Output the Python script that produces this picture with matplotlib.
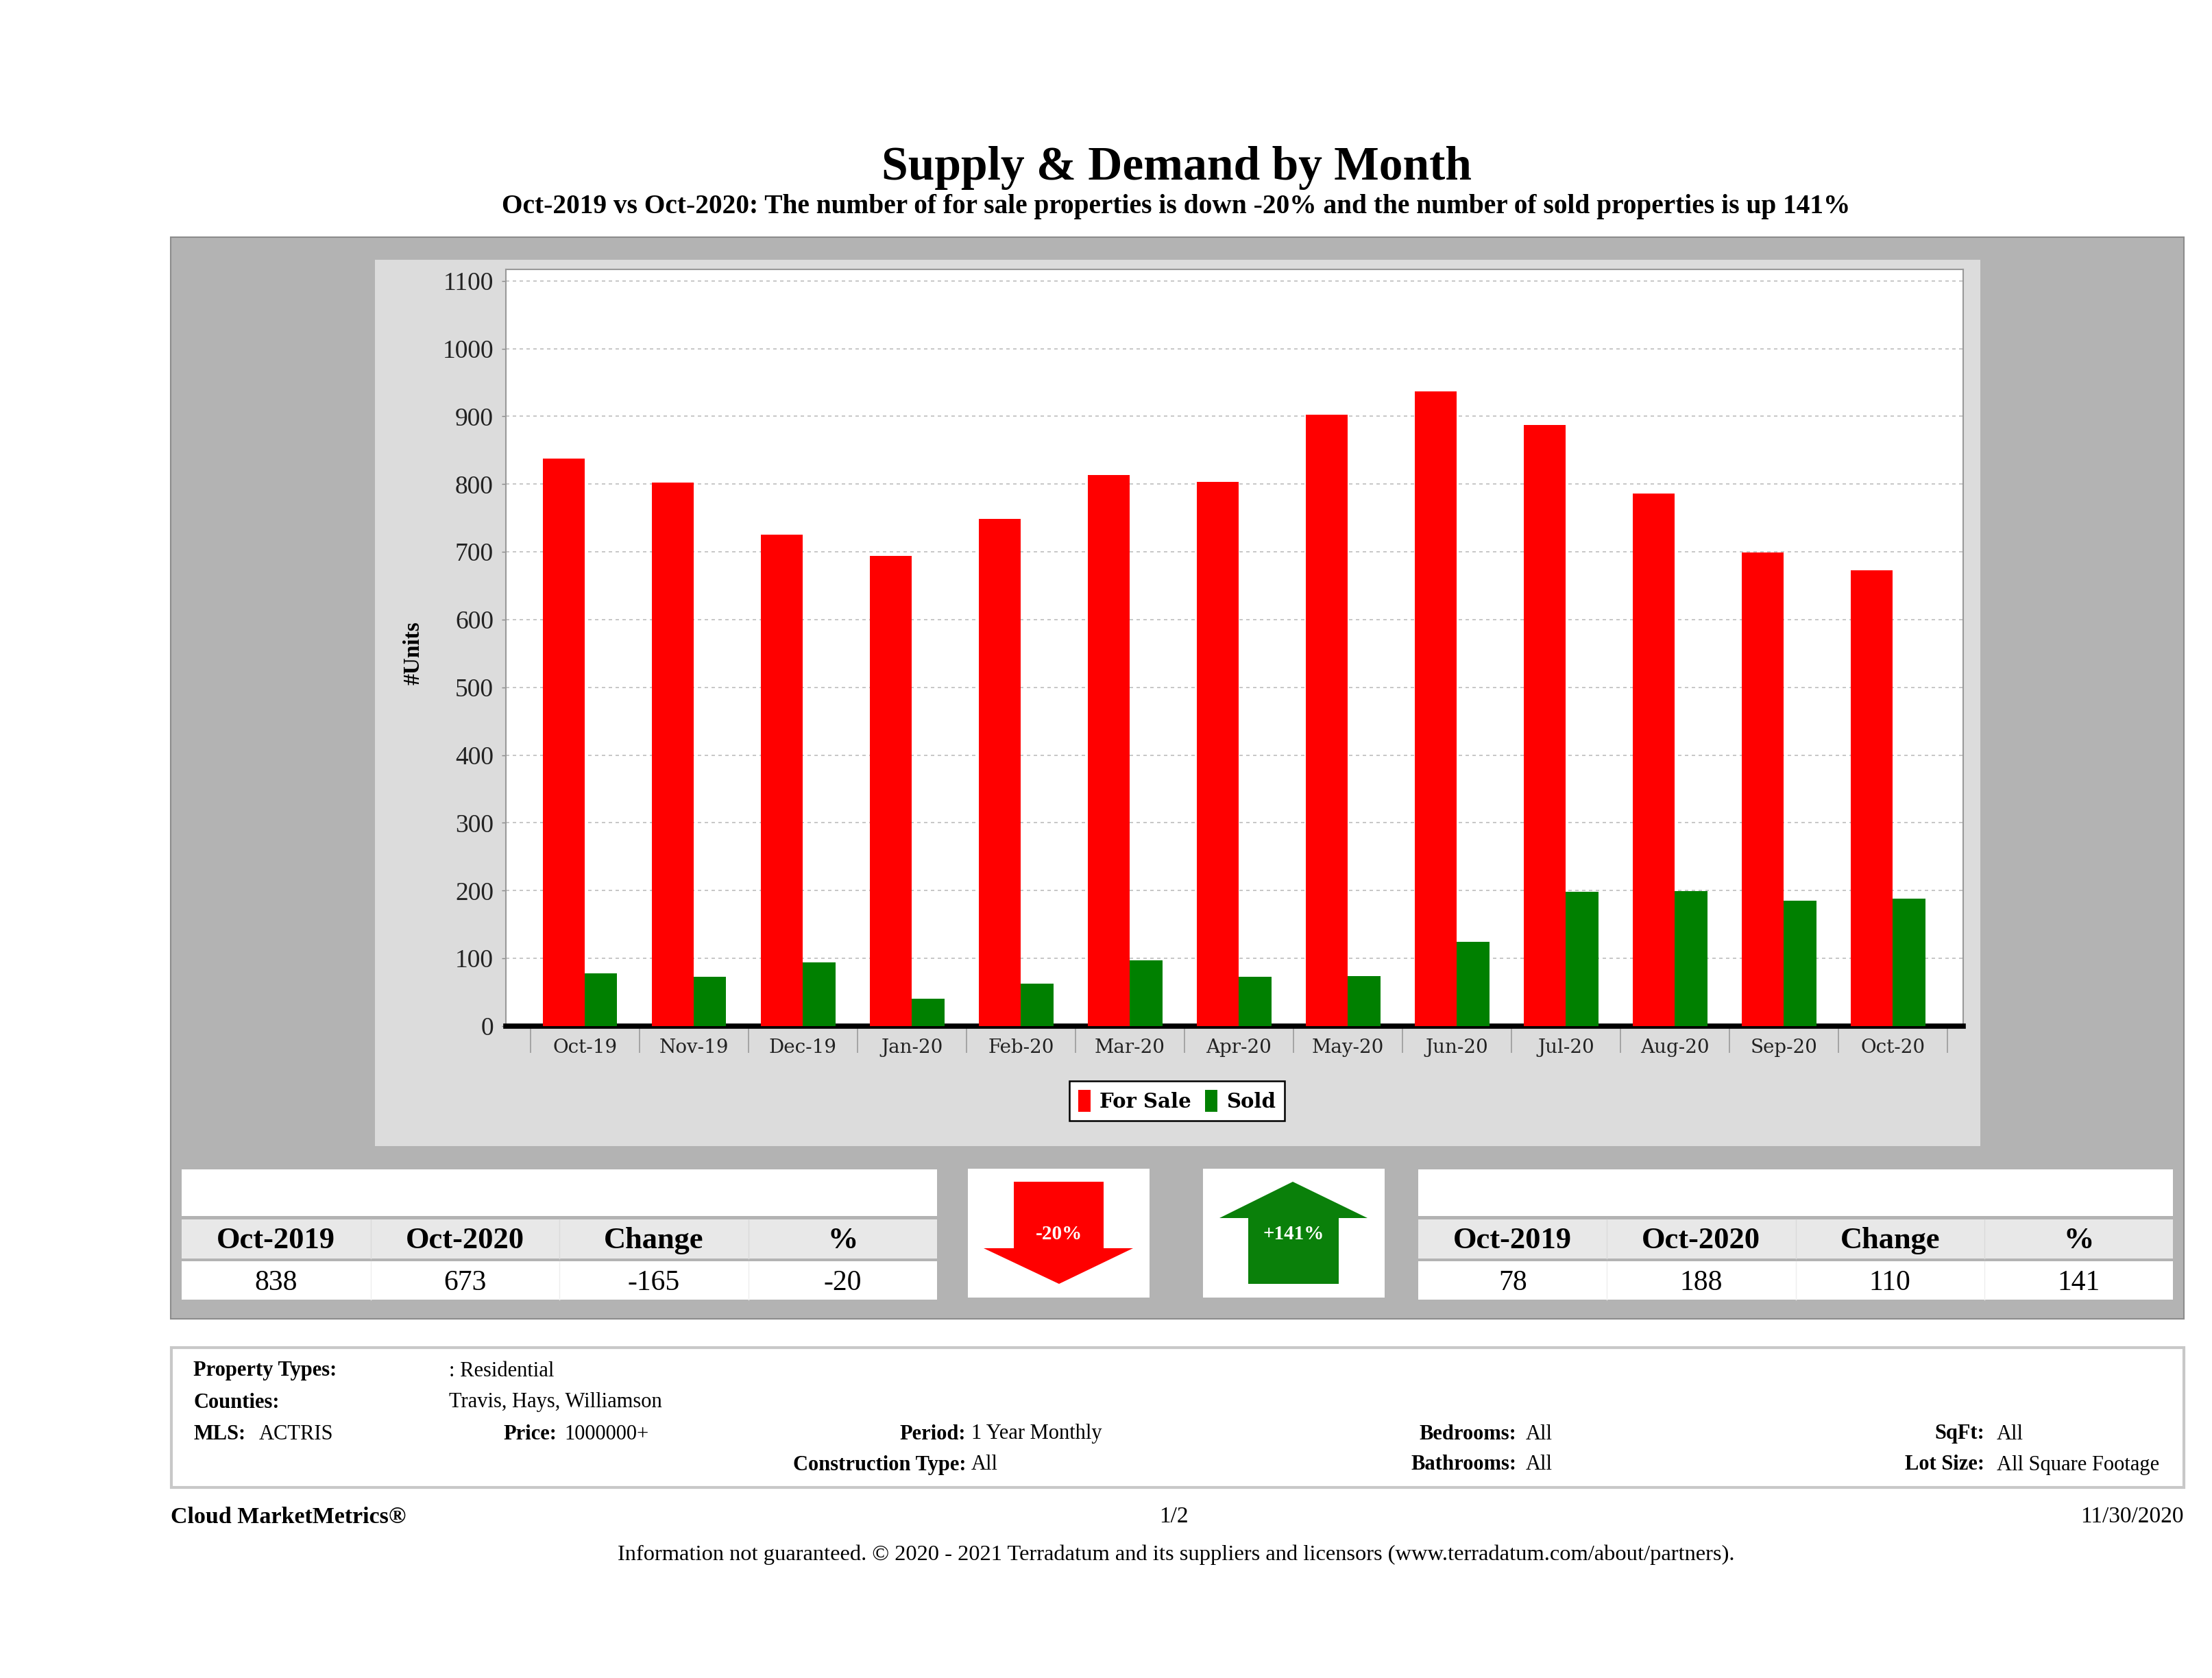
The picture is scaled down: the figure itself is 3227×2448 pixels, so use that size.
import numpy as np
import matplotlib
matplotlib.use("Agg")
import matplotlib.pyplot as plt
from matplotlib.patches import Rectangle, Polygon, Patch

# ---- data ----
months = ["Oct-19", "Nov-19", "Dec-19", "Jan-20", "Feb-20", "Mar-20", "Apr-20",
          "May-20", "Jun-20", "Jul-20", "Aug-20", "Sep-20", "Oct-20"]
for_sale = [838, 802, 725, 694, 749, 813, 803, 902, 937, 887, 786, 699, 673]
sold = [78, 73, 94, 40, 63, 97, 73, 74, 124, 198, 199, 185, 188]

stat_headers = ["Oct-2019", "Oct-2020", "Change", "%"]
for_sale_stats = [838, 673, -165, -20]
sold_stats = [78, 188, 110, 141]

title = "Supply & Demand by Month"
subtitle = ("Oct-2019 vs Oct-2020: The number of for sale properties is down -20% "
            "and the number of sold properties is up 141%")

SERIF = "Liberation Serif"
W, H = 3227, 2448

fig = plt.figure(figsize=(W / 100, H / 100), dpi=100)
fig.patch.set_facecolor("white")

# background axes in pixel coordinates (y down)
bg = fig.add_axes([0, 0, 1, 1], zorder=0)
bg.set_xlim(0, W)
bg.set_ylim(H, 0)
bg.axis("off")


def box(x0, y0, x1, y1, fc, ec="none", lw=0):
    bg.add_patch(Rectangle((x0, y0), x1 - x0, y1 - y0, facecolor=fc,
                           edgecolor=ec, linewidth=lw))


def txt(x, y, s, size, ha="left", bold=False, color="black", family=SERIF, **kw):
    bg.text(x, y, s, fontsize=size, ha=ha, va="center", color=color,
            fontweight="bold" if bold else "normal", family=family, **kw)


# title
txt(1716, 245, title, 50, ha="center", bold=True)
txt(1716, 302, subtitle, 28.4, ha="center", bold=True)

# outer gray panel and chart panel
box(249, 346, 3186, 1924, "#b3b3b3", ec="#8c8c8c", lw=1.5)
box(547, 379, 2889, 1672, "#dcdcdc")

# y axis label
txt(603, 953, "#Units", 24, ha="center", bold=True, rotation=90)

# ---- bar chart ----
ax = fig.add_axes([738 / W, 1 - 1497 / H, (2864 - 738) / W, (1497 - 393) / H], zorder=2)
x = np.arange(len(months))
red_w, green_w = 0.384, 0.296
ax.bar(x - red_w, for_sale, width=red_w, align="edge", color="#ff0000", zorder=3)
ax.bar(x, sold, width=green_w, align="edge", color="#008000", zorder=3)
ax.set_xlim(-0.726, 12.645)
ax.set_ylim(0, 1117)
ax.set_yticks(np.arange(0, 1101, 100))
ax.yaxis.grid(True, linestyle=(0, (3, 3)), color="#bdbdbd", linewidth=1.2, zorder=0)
ax.set_xticks(x, months)
ax.set_xticks(np.arange(-0.5, 13, 1), minor=True)
ax.tick_params(axis="x", which="major", length=0, pad=13, labelsize=20,
               labelcolor="#222222")
ax.tick_params(axis="x", which="minor", length=28, width=1.2, color="#9a9a9a")
ax.tick_params(axis="y", length=4, width=1, color="#888888", pad=9, labelsize=27,
               labelcolor="#222222")
for lab in ax.get_xticklabels():
    lab.set_family("DejaVu Serif")
for lab in ax.get_yticklabels():
    lab.set_family(SERIF)
for side in ["left", "top", "right"]:
    ax.spines[side].set_color("#999999")
    ax.spines[side].set_linewidth(1.5)
ax.spines["bottom"].set_color("black")
ax.spines["bottom"].set_linewidth(5.5)
ax.set_facecolor("white")

handles = [Patch(facecolor="#ff0000", label="For Sale"),
           Patch(facecolor="#008000", label="Sold")]
leg = ax.legend(handles=handles, loc="center", ncol=2,
                bbox_to_anchor=(1717 / W, 1 - 1606 / H), bbox_transform=fig.transFigure,
                frameon=True, fancybox=False, edgecolor="black", facecolor="white",
                framealpha=1, borderpad=0.45, handlelength=0.6, handleheight=1.3,
                handletextpad=0.45, columnspacing=0.7,
                prop={"family": "DejaVu Serif", "weight": "bold", "size": 21})
leg.get_frame().set_linewidth(1.8)

# ---- stats tables ----
def stats_table(x0, x1, values):
    box(x0, 1706, x1, 1774, "white")
    box(x0, 1779, x1, 1836, "#e8e8e8")
    box(x0, 1840, x1, 1896, "white")
    cw = (x1 - x0) / 4
    for i, (h, v) in enumerate(zip(stat_headers, values)):
        cx = x0 + cw * (i + 0.5)
        txt(cx, 1810, h, 32, ha="center", bold=True)
        txt(cx, 1872, str(v), 30, ha="center")
        if i > 0:
            bg.plot([x0 + cw * i] * 2, [1779, 1836], color="#dadada", lw=1)
            bg.plot([x0 + cw * i] * 2, [1840, 1896], color="#eeeeee", lw=1)


stats_table(265, 1367, for_sale_stats)
stats_table(2069, 3170, sold_stats)

# arrows
box(1412, 1705, 1677, 1893, "white")
bg.add_patch(Polygon([(1479, 1724), (1610, 1724), (1610, 1821), (1653, 1821),
                      (1545, 1873), (1435, 1821), (1479, 1821)],
                     closed=True, facecolor="#ff0000", edgecolor="none"))
txt(1545, 1801, "%d%%" % for_sale_stats[3], 21, ha="center", bold=True, color="white")

box(1755, 1705, 2020, 1893, "white")
bg.add_patch(Polygon([(1886, 1724), (1995, 1777), (1953, 1777), (1953, 1873),
                      (1821, 1873), (1821, 1777), (1779, 1777)],
                     closed=True, facecolor="#0a800a", edgecolor="none"))
txt(1887, 1801, "+%d%%" % sold_stats[3], 21, ha="center", bold=True, color="white")

# ---- criteria box ----
box(250, 1966, 3186, 2170, "white", ec="#c8c8c8", lw=3)
fs = 22
rows = [2000, 2046, 2092, 2137]
txt(282, rows[0], "Property Types:", fs, bold=True)
txt(655, rows[0], ": Residential", fs)
txt(282, rows[1], "Counties:", fs, bold=True)
txt(655, rows[1], "Travis, Hays, Williamson", fs)
txt(282, rows[2], "MLS:", fs, bold=True)
txt(378, rows[2], "ACTRIS", fs)
txt(812, rows[2], "Price:", fs, ha="right", bold=True)
txt(823, rows[2], "1000000+", fs)
txt(1409, rows[2], "Period:", fs, ha="right", bold=True)
txt(1417, rows[2], "1 Year Monthly", fs)
txt(2212, rows[2], "Bedrooms:", fs, ha="right", bold=True)
txt(2226, rows[2], "All", fs)
txt(2895, rows[2], "SqFt:", fs, ha="right", bold=True)
txt(2913, rows[2], "All", fs)
txt(1409, rows[3], "Construction Type:", fs, ha="right", bold=True)
txt(1417, rows[3], "All", fs)
txt(2212, rows[3], "Bathrooms:", fs, ha="right", bold=True)
txt(2226, rows[3], "All", fs)
txt(2895, rows[3], "Lot Size:", fs, ha="right", bold=True)
txt(2913, rows[3], "All Square Footage", fs)

# ---- footer ----
txt(249, 2213, "Cloud MarketMetrics\u00ae", 24.5, bold=True)
txt(1712, 2213, "1/2", 24, ha="center")
txt(3186, 2213, "11/30/2020", 24, ha="right")
txt(1716, 2268, "Information not guaranteed. \u00a9 2020 - 2021 Terradatum and its suppliers "
    "and licensors (www.terradatum.com/about/partners).", 23.4, ha="center")

fig.savefig("out.png", dpi=100)
